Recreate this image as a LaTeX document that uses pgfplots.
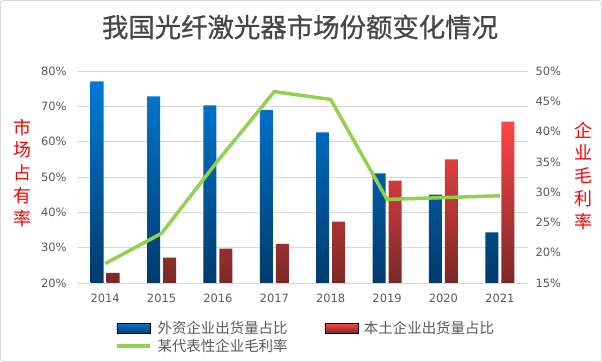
\documentclass[border=0pt]{standalone}
\usepackage{pgfplots}
\pgfplotsset{compat=1.18}
\usepackage{fontspec}
\setmainfont{DejaVu Sans}
\newfontfamily\cjk{Noto Sans CJK SC}
\newfontfamily\cjkt[FakeBold=0.8]{Noto Sans CJK SC}
\definecolor{bluetop}{RGB}{0,122,212}
\definecolor{bluebot}{RGB}{0,58,108}
\definecolor{redtop}{RGB}{255,70,70}
\definecolor{redbot}{RGB}{122,40,40}
\definecolor{lgreen}{RGB}{146,208,80}
\definecolor{tickgray}{RGB}{89,89,89}
\definecolor{gridgray}{RGB}{217,217,217}
\definecolor{titlegray}{RGB}{70,70,70}
\begin{document}
\begin{tikzpicture}
\draw[gridgray, rounded corners=3bp, line width=1bp] (-76.5bp,-78.5bp) rectangle (524.5bp,282.5bp);
\path (-77bp,-79bp) rectangle (525bp,283bp);
\begin{axis}[
  at={(0bp,0bp)}, anchor=south west,
  scale only axis, width=451bp, height=212bp,
  xmin=-0.5, xmax=7.5, ymin=20, ymax=80,
  xtick={0,...,7}, xticklabels={2014,2015,2016,2017,2018,2019,2020,2021},
  ytick={20,30,...,80},
  yticklabel={\pgfmathprintnumber{\tick}\%},
  /pgf/number format/assume math mode=true,
  axis y line*=left, axis x line*=bottom,
  axis line style={draw=none},
  major tick length=0,
  ymajorgrids, grid style={gridgray, line width=0.8bp},
  tick label style={font=\fontsize{11.5}{13}\selectfont, text=tickgray},
  yticklabel style={xshift=-7bp},
  xticklabel style={yshift=-7bp},
  ybar, bar width=13bp,
]
\addplot[ybar, bar shift=-8bp, draw=none, top color=bluetop, bottom color=bluebot]
  coordinates {(0,77.1) (1,72.8) (2,70.3) (3,68.9) (4,62.6) (5,51.0) (6,45.0) (7,34.3)};
\addplot[ybar, bar shift=8bp, draw=none, top color=redtop, bottom color=redbot]
  coordinates {(0,22.9) (1,27.2) (2,29.7) (3,31.1) (4,37.4) (5,49.0) (6,55.0) (7,65.7)};
\end{axis}
\begin{axis}[
  at={(0bp,0bp)}, anchor=south west,
  scale only axis, width=451bp, height=212bp,
  xmin=-0.5, xmax=7.5, ymin=15, ymax=50,
  axis y line*=right, axis x line=none,
  axis line style={draw=none},
  major tick length=0,
  ytick={15,20,...,50},
  yticklabel={\pgfmathprintnumber{\tick}\%},
  /pgf/number format/assume math mode=true,
  tick label style={font=\fontsize{11.5}{13}\selectfont, text=tickgray},
  yticklabel style={xshift=4bp},
  legend columns=2,
  legend cell align=left,
  legend style={at={(0.084,-0.175)}, anchor=north west, draw=none, fill=none,
    inner sep=0pt, row sep=2bp,
    font=\cjk\fontsize{14.5}{16}\selectfont, text=tickgray,
    nodes={inner sep=1bp},
    /tikz/every odd column/.append style={column sep=5bp},
    /tikz/every even column/.append style={column sep=36bp}},
]
\addlegendimage{legend image code/.code={\shade[top color=bluetop,bottom color=bluebot] (0bp,-5bp) rectangle (33bp,5bp);}}
\addlegendentry{外资企业出货量占比}
\addlegendimage{legend image code/.code={\shade[top color=redtop,bottom color=redbot] (0bp,-5bp) rectangle (33bp,5bp);}}
\addlegendentry{本土企业出货量占比}
\addplot[lgreen, line width=3.5bp, mark=none, legend image code/.code={\draw[lgreen, line width=3.5bp] (0bp,0bp) -- (33bp,0bp);}]
  coordinates {(0,18.2) (1,23.2) (2,35.2) (3,46.6) (4,45.3) (5,28.8) (6,29.1) (7,29.4)};
\addlegendentry{某代表性企业毛利率}
\end{axis}
\node[text=titlegray, font=\cjkt\fontsize{26.5}{30}\selectfont] at (223bp,256bp) {我国光纤激光器市场份额变化情况};
\node[text=red, align=center, font=\cjk\fontsize{18}{23}\selectfont] at (-55bp,110bp) {市\\场\\占\\有\\率};
\node[text=red, align=center, font=\cjk\fontsize{18}{23}\selectfont] at (506bp,107bp) {企\\业\\毛\\利\\率};
\end{tikzpicture}
\end{document}
